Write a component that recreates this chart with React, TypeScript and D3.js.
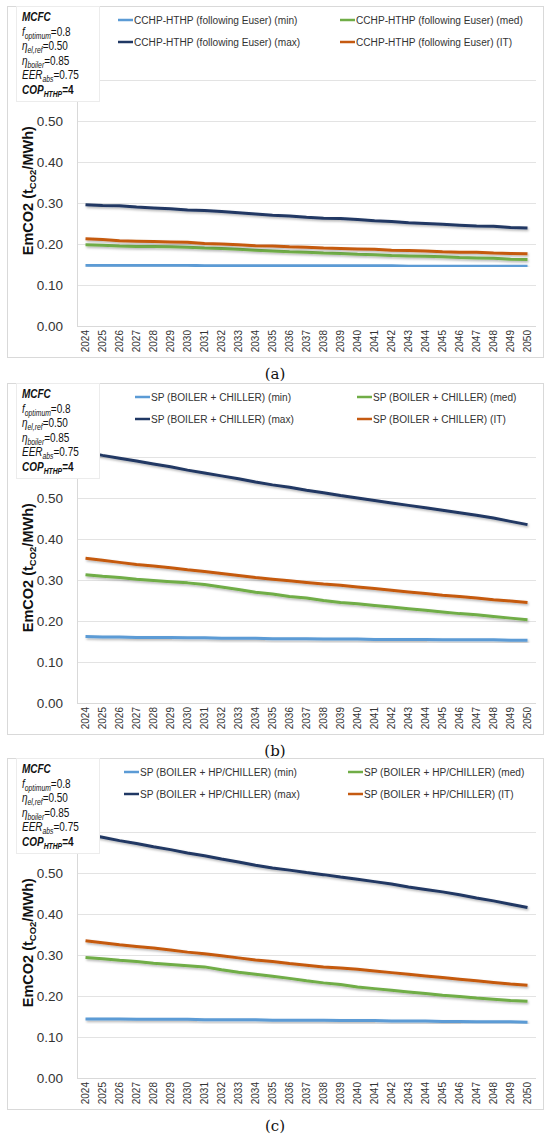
import React, { useEffect, useRef } from "react";
import * as d3 from "d3";

const years = d3.range(2024, 2051).map(String);
const yTicks = [0, 0.1, 0.2, 0.3, 0.4, 0.5];
const gridTicks = [0, 0.1, 0.2, 0.3, 0.4, 0.5, 0.6];
const seriesKeys = ["min", "med", "max", "IT"];
const panelLabels = ["(a)", "(b)", "(c)"];
const panelNames = [
  "CCHP-HTHP (following Euser)",
  "SP (BOILER + CHILLER)",
  "SP (BOILER + HP/CHILLER)",
];

// panel (a)
const minA = [0.148, 0.148, 0.148, 0.148, 0.148, 0.148, 0.148, 0.147, 0.147, 0.147, 0.147, 0.147, 0.147, 0.147, 0.147, 0.147, 0.147, 0.147, 0.147, 0.146, 0.146, 0.146, 0.146, 0.146, 0.146, 0.146, 0.146];
const medA = [0.198, 0.197, 0.195, 0.194, 0.194, 0.193, 0.192, 0.19, 0.189, 0.187, 0.185, 0.183, 0.181, 0.18, 0.178, 0.177, 0.175, 0.174, 0.172, 0.171, 0.17, 0.169, 0.167, 0.166, 0.165, 0.163, 0.162];
const maxA = [0.296, 0.294, 0.293, 0.29, 0.288, 0.286, 0.283, 0.282, 0.279, 0.276, 0.273, 0.27, 0.268, 0.265, 0.263, 0.262, 0.26, 0.257, 0.255, 0.252, 0.25, 0.248, 0.246, 0.244, 0.243, 0.24, 0.239];
const itA = [0.213, 0.211, 0.208, 0.207, 0.206, 0.205, 0.204, 0.201, 0.2, 0.198, 0.196, 0.195, 0.193, 0.192, 0.19, 0.189, 0.188, 0.187, 0.185, 0.184, 0.183, 0.181, 0.18, 0.18, 0.178, 0.177, 0.176];

// panel (b)
const minB = [0.162, 0.161, 0.161, 0.16, 0.16, 0.16, 0.159, 0.159, 0.158, 0.158, 0.158, 0.157, 0.157, 0.157, 0.156, 0.156, 0.156, 0.155, 0.155, 0.155, 0.155, 0.154, 0.154, 0.154, 0.154, 0.153, 0.153];
const medB = [0.313, 0.309, 0.306, 0.302, 0.299, 0.296, 0.293, 0.289, 0.283, 0.277, 0.27, 0.266, 0.26, 0.256, 0.25, 0.245, 0.242, 0.238, 0.234, 0.23, 0.226, 0.222, 0.218, 0.215, 0.211, 0.207, 0.203];
const maxB = [0.612, 0.604, 0.597, 0.59, 0.583, 0.576, 0.568, 0.561, 0.554, 0.547, 0.539, 0.532, 0.526, 0.519, 0.513, 0.506, 0.5, 0.494, 0.488, 0.482, 0.476, 0.47, 0.464, 0.458, 0.451, 0.443, 0.435];
const itB = [0.353, 0.348, 0.343, 0.338, 0.334, 0.33, 0.325, 0.321, 0.316, 0.311, 0.306, 0.302, 0.298, 0.294, 0.29, 0.287, 0.283, 0.279, 0.275, 0.271, 0.267, 0.263, 0.26, 0.256, 0.252, 0.249, 0.245];

// panel (c)
const minC = [0.144, 0.144, 0.144, 0.143, 0.143, 0.143, 0.143, 0.142, 0.142, 0.142, 0.142, 0.141, 0.141, 0.141, 0.141, 0.14, 0.14, 0.14, 0.139, 0.139, 0.139, 0.138, 0.138, 0.137, 0.137, 0.137, 0.136];
const medC = [0.294, 0.291, 0.287, 0.284, 0.28, 0.277, 0.274, 0.271, 0.264, 0.258, 0.253, 0.248, 0.243, 0.237, 0.232, 0.228, 0.222, 0.218, 0.214, 0.21, 0.206, 0.202, 0.199, 0.195, 0.192, 0.189, 0.187];
const maxC = [0.595, 0.587, 0.579, 0.572, 0.564, 0.557, 0.549, 0.542, 0.534, 0.527, 0.519, 0.512, 0.507, 0.501, 0.496, 0.49, 0.485, 0.479, 0.473, 0.466, 0.46, 0.454, 0.447, 0.439, 0.432, 0.424, 0.416];
const itC = [0.335, 0.33, 0.325, 0.321, 0.317, 0.312, 0.307, 0.303, 0.298, 0.293, 0.288, 0.284, 0.279, 0.275, 0.271, 0.268, 0.265, 0.261, 0.257, 0.253, 0.249, 0.245, 0.241, 0.237, 0.233, 0.229, 0.226];

const panelData = [
  [minA, medA, maxA, itA],
  [minB, medB, maxB, itB],
  [minC, medC, maxC, itC],
];

const colors: Record<string, string> = {
  min: "#5b9bd5",
  med: "#70ad47",
  max: "#203864",
  IT: "#c55a11",
};

const panelTops = [6, 383, 758];
const legendCols = [
  [118, 340],
  [135, 357],
  [124, 348],
];

const W = 550;
const H = 1142;
const frameLeft = 7;
const frameRight = 543;
const frameH = 351;
const plotLeft = 77;
const plotRight = 536;
const font = "'Liberation Sans', Arial, sans-serif";
// no narrow font installed: squeeze Liberation Sans horizontally to get a Calibri-like width
const legendSqueeze = 0.88;
const annSqueeze = 0.8;

const App: React.FC = () => {
  const ref = useRef<SVGSVGElement | null>(null);

  useEffect(() => {
    const svg = d3.select(ref.current);
    svg.selectAll("*").remove();

    const defs = svg.append("defs");
    defs
      .append("filter")
      .attr("id", "shadow")
      .attr("x", "-5%")
      .attr("y", "-50%")
      .attr("width", "110%")
      .attr("height", "200%")
      .append("feDropShadow")
      .attr("dx", 1)
      .attr("dy", 1.5)
      .attr("stdDeviation", 0.8)
      .attr("flood-color", "#000")
      .attr("flood-opacity", 0.3);

    const x = d3.scalePoint().domain(years).range([plotLeft, plotRight]).padding(0.5);

    panelData.forEach((series, p) => {
      const top = panelTops[p];
      const g = svg.append("g").attr("transform", `translate(0,${top})`);
      const y = d3.scaleLinear().domain([0, 0.6]).range([320, 74]);

      g.append("rect")
        .attr("x", frameLeft + 0.5)
        .attr("y", 0.5)
        .attr("width", frameRight - frameLeft)
        .attr("height", frameH)
        .attr("fill", "#fff")
        .attr("stroke", "#d9d9d9");

      // gridlines
      g.append("g")
        .selectAll("line")
        .data(gridTicks.slice(1))
        .enter()
        .append("line")
        .attr("x1", plotLeft)
        .attr("x2", plotRight)
        .attr("y1", (d) => Math.round(y(d)) + 0.5)
        .attr("y2", (d) => Math.round(y(d)) + 0.5)
        .attr("stroke", "#e3e3e3");

      // axes lines
      g.append("line")
        .attr("x1", plotLeft + 0.5)
        .attr("x2", plotLeft + 0.5)
        .attr("y1", y(0.6))
        .attr("y2", y(0))
        .attr("stroke", "#d9d9d9");
      g.append("line")
        .attr("x1", plotLeft)
        .attr("x2", plotRight)
        .attr("y1", Math.round(y(0)) + 0.5)
        .attr("y2", Math.round(y(0)) + 0.5)
        .attr("stroke", "#d9d9d9");

      // y tick labels
      g.append("g")
        .selectAll("text")
        .data(yTicks)
        .enter()
        .append("text")
        .attr("x", 63)
        .attr("y", (d) => y(d))
        .attr("dy", "0.36em")
        .attr("text-anchor", "end")
        .attr("font-family", font)
        .attr("font-size", 13.5)
        .attr("fill", "#333")
        .text((d) => d3.format(".2f")(d));

      // x tick labels
      g.append("g")
        .selectAll("text")
        .data(years)
        .enter()
        .append("text")
        .attr("transform", (d) => `translate(${x(d)},${y(0) + 4}) rotate(-90)`)
        .attr("dy", "0.35em")
        .attr("text-anchor", "end")
        .attr("font-family", font)
        .attr("font-size", 10)
        .attr("fill", "#333")
        .text((d) => d);

      // y title
      const title = g
        .append("text")
        .attr("transform", `translate(33,${y(0.33)}) rotate(-90)`)
        .attr("text-anchor", "middle")
        .attr("font-family", font)
        .attr("font-size", 14.5)
        .attr("font-weight", "bold")
        .attr("fill", "#111");
      title.append("tspan").text("EmCO2  (t");
      title.append("tspan").attr("font-size", 9.5).attr("dy", 3).text("CO2");
      title.append("tspan").attr("dy", -3).text("/MWh)");

      // series lines
      const line = d3
        .line<number>()
        .x((_, i) => x(years[i]) ?? 0)
        .y((d) => y(d));

      seriesKeys.forEach((k, i) => {
        g.append("path")
          .datum(series[i])
          .attr("d", line)
          .attr("fill", "none")
          .attr("stroke", colors[k])
          .attr("stroke-width", 3)
          .attr("stroke-linejoin", "round")
          .attr("filter", "url(#shadow)");
      });

      // annotation box
      g.append("rect")
        .attr("x", 16.5)
        .attr("y", 0.5)
        .attr("width", 83)
        .attr("height", 95)
        .attr("fill", "#fff")
        .attr("stroke", "#ececec");

      const ann = g
        .append("g")
        .attr("transform", `translate(22,0) scale(${annSqueeze},1)`)
        .attr("font-family", font)
        .attr("font-size", 12.5)
        .attr("fill", "#111");
      const lineY = (i: number) => 15 + i * 14.6;
      const sub = (t: d3.Selection<SVGTextElement, unknown, null, undefined>, s: string, bold = false) => {
        t.append("tspan")
          .attr("font-size", 8.5)
          .attr("dy", 3)
          .attr("font-style", "italic")
          .attr("font-weight", bold ? "bold" : "normal")
          .text(s);
      };
      const l0 = ann.append("text").attr("x", 0).attr("y", lineY(0));
      l0.append("tspan").attr("font-weight", "bold").attr("font-style", "italic").text("MCFC");
      const l1 = ann.append("text").attr("x", 0).attr("y", lineY(1));
      l1.append("tspan").attr("font-style", "italic").text("f");
      sub(l1, "optimum");
      l1.append("tspan").attr("dy", -3).text("=0.8");
      const l2 = ann.append("text").attr("x", 0).attr("y", lineY(2));
      l2.append("tspan").attr("font-style", "italic").text("η");
      sub(l2, "el,ref");
      l2.append("tspan").attr("dy", -3).text("=0.50");
      const l3 = ann.append("text").attr("x", 0).attr("y", lineY(3));
      l3.append("tspan").attr("font-style", "italic").text("η");
      sub(l3, "boiler");
      l3.append("tspan").attr("dy", -3).text("=0.85");
      const l4 = ann.append("text").attr("x", 0).attr("y", lineY(4));
      l4.append("tspan").attr("font-style", "italic").text("EER");
      sub(l4, "abs");
      l4.append("tspan").attr("dy", -3).text("=0.75");
      const l5 = ann.append("text").attr("x", 0).attr("y", lineY(5)).attr("font-weight", "bold");
      l5.append("tspan").attr("font-style", "italic").text("COP");
      sub(l5, "HTHP", true);
      l5.append("tspan").attr("dy", -3).text("=4");

      // legend
      const legendOrder = [
        ["min", "med"],
        ["max", "IT"],
      ];
      legendOrder.forEach((row, r) => {
        row.forEach((k, c) => {
          const lx = legendCols[p][c];
          const ly = 14 + r * 22;
          g.append("line")
            .attr("x1", lx)
            .attr("x2", lx + 15)
            .attr("y1", ly)
            .attr("y2", ly)
            .attr("stroke", colors[k])
            .attr("stroke-width", 2.5);
          g.append("text")
            .attr("transform", `translate(${lx + 16},${ly}) scale(${legendSqueeze},1)`)
            .attr("dy", "0.35em")
            .attr("font-family", font)
            .attr("font-size", 11.5)
            .attr("fill", "#333")
            .text(`${panelNames[p]} (${k})`);
        });
      });

      // panel label
      svg
        .append("text")
        .attr("x", W / 2)
        .attr("y", top + frameH + 22)
        .attr("text-anchor", "middle")
        .attr("font-family", "'DejaVu Serif', 'Liberation Serif', serif")
        .attr("font-size", 15)
        .attr("fill", "#111")
        .text(panelLabels[p]);
    });
  }, []);

  return (
    <svg
      ref={ref}
      width={W}
      height={H}
      style={{ position: "absolute", left: 0, top: 0, background: "#fff" }}
    ></svg>
  );
};

export default App;
